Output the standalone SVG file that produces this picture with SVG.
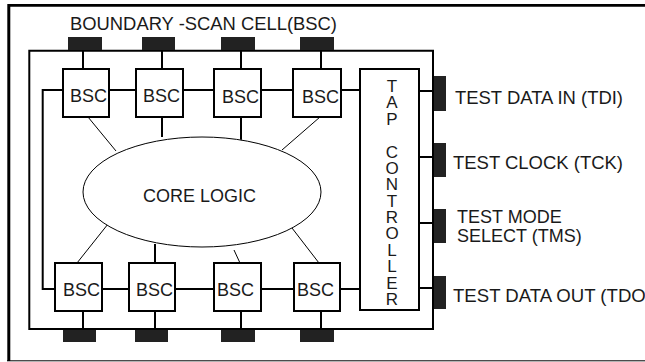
<svg xmlns="http://www.w3.org/2000/svg" width="645" height="362" viewBox="0 0 645 362">
<style>
text{font-family:"Liberation Sans",Arial,sans-serif;font-size:18px;fill:#1a1a1a}
.box{fill:#fff;stroke:#000;stroke-width:2}
.pad{fill:#222}
.w{fill:none;stroke:#000;stroke-width:2}
.t{fill:none;stroke:#000;stroke-width:1}
.tap{font-size:17px;writing-mode:vertical-rl;text-orientation:upright}
</style>
<rect width="645" height="362" fill="#fff"/>
<g id="frame">
<path d="M9 5.3 H645" fill="none" stroke="#000" stroke-width="2.7"/>
<path d="M8.8 4 V361" fill="none" stroke="#000" stroke-width="3"/>
<path d="M7 360.8 H645" class="t"/>
</g>
<g id="title"><text x="70" y="30" textLength="267" lengthAdjust="spacingAndGlyphs">BOUNDARY -SCAN CELL(BSC)</text></g>
<g id="connectors">
<path class="w" d="M29.3 50.8 H433 V329 H29.3 Z"/>
<path class="w" d="M63 90 H42.7 V289 H55"/>
<path class="w" d="M109 90 H136 M183 90 H214 M261 90 H293 M341 90 H360"/>
<path class="w" d="M102 289 H129 M175 289 H214 M261 289 H294 M340 289 H360"/>
<path class="w" d="M83 51 V69 M162 51 V69 M241 51 V69 M321 51 V69"/>
<path class="w" d="M83 311 V329 M155 311 V329 M241 311 V329 M321 311 V329"/>
<path class="w" d="M419 91 H433 M419 157 H433 M419 223 H433 M419 288 H433"/>
<path class="t" d="M88 117 L116 151 M320 117 L282 150 M77 263 L108 224 M319 263 L292 228 M240 263 L234 250"/>
<path class="w" d="M162 117 V137 M241 117 V143 M155 244 V263"/>
</g>
<g id="pads">
<rect class="pad" x="68" y="37" width="34" height="13"/>
<rect class="pad" x="142" y="37" width="33" height="13"/>
<rect class="pad" x="221" y="37" width="34" height="13"/>
<rect class="pad" x="300" y="37" width="34" height="13"/>
<rect class="pad" x="63" y="330" width="33" height="12"/>
<rect class="pad" x="135" y="330" width="33" height="12"/>
<rect class="pad" x="221" y="330" width="34" height="12"/>
<rect class="pad" x="300" y="330" width="34" height="12"/>
<rect class="pad" x="434" y="76" width="12" height="35"/>
<rect class="pad" x="434" y="143" width="12" height="34"/>
<rect class="pad" x="434" y="209" width="12" height="34"/>
<rect class="pad" x="434" y="276" width="12" height="33"/>
</g>
<g id="core">
<ellipse cx="202" cy="192" rx="119" ry="55" fill="#fff" stroke="#000" stroke-width="1"/>
<text x="143" y="202">CORE LOGIC</text>
</g>
<g id="bsc-t1"><rect class="box" x="63" y="69" width="46" height="48"/><text x="70" y="102">BSC</text></g>
<g id="bsc-t2"><rect class="box" x="136" y="69" width="47" height="48"/><text x="143" y="102">BSC</text></g>
<g id="bsc-t3"><rect class="box" x="214" y="69" width="47" height="48"/><text x="222" y="103">BSC</text></g>
<g id="bsc-t4"><rect class="box" x="293" y="69" width="48" height="48"/><text x="302" y="103">BSC</text></g>
<g id="bsc-b1"><rect class="box" x="55" y="263" width="47" height="48"/><text x="63" y="296">BSC</text></g>
<g id="bsc-b2"><rect class="box" x="129" y="263" width="46" height="48"/><text x="136" y="296">BSC</text></g>
<g id="bsc-b3"><rect class="box" x="214" y="263" width="47" height="48"/><text x="217" y="296">BSC</text></g>
<g id="bsc-b4"><rect class="box" x="294" y="263" width="46" height="48"/><text x="297" y="296">BSC</text></g>
<g id="tap">
<rect class="box" x="360" y="69" width="59" height="241"/>
<text class="tap" x="392" y="77" textLength="232" lengthAdjust="spacing">TAP CONTROLLER</text>
</g>
<g id="labels">
<text x="455" y="104" textLength="168" lengthAdjust="spacingAndGlyphs">TEST DATA IN (TDI)</text>
<text x="453" y="169" textLength="170" lengthAdjust="spacingAndGlyphs">TEST CLOCK (TCK)</text>
<text x="457" y="223">TEST MODE</text>
<text x="457" y="242">SELECT (TMS)</text>
<text x="453" y="302" textLength="199" lengthAdjust="spacingAndGlyphs">TEST DATA OUT (TDO)</text>
</g>
</svg>
